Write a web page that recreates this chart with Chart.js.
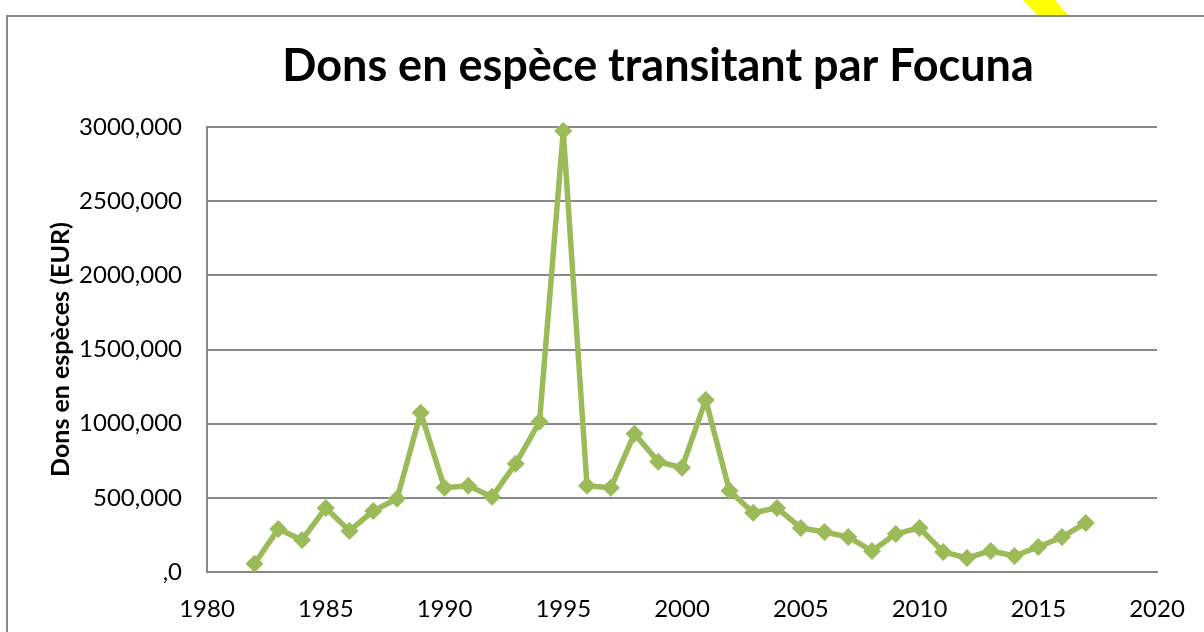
<!DOCTYPE html>
<html>
<head>
<meta charset="utf-8">
<script src="https://cdn.jsdelivr.net/npm/chart.js@4.4.1/dist/chart.umd.min.js"></script>
<style>
  html, body { margin: 0; padding: 0; background: #fff; overflow: hidden; width: 1204px; height: 632px; }
  #frame { position: absolute; left: 6px; top: 15px; border: 2px solid #898989; width: 1300px; height: 650px; }
  #mark { position: absolute; left: 1023px; top: 0; width: 46px; height: 15px; background: #ffff00;
          clip-path: polygon(0 0, 32px 0, 45px 15px, 14px 15px); }
</style>
</head>
<body>
<div id="mark"></div>
<div id="frame"><canvas id="line-chart" width="1300" height="650"></canvas></div>
<script>
// data
const years = [1982, 1983, 1984, 1985, 1986, 1987, 1988, 1989, 1990, 1991, 1992, 1993,
               1994, 1995, 1996, 1997, 1998, 1999, 2000, 2001, 2002, 2003, 2004, 2005,
               2006, 2007, 2008, 2009, 2010, 2011, 2012, 2013, 2014, 2015, 2016, 2017];
const dons = [55, 290, 216, 432, 277, 412, 493, 1074, 568, 581, 507, 730,
              1013, 2973, 581, 568, 932, 743, 703, 1160, 547, 399, 432, 297,
              270, 236, 142, 257, 297, 135, 95, 142, 108, 169, 236, 331];
const yTickLabels = [',0', '500,000', '1000,000', '1500,000', '2000,000', '2500,000', '3000,000'];
const xTickLabels = ['1980', '1985', '1990', '1995', '2000', '2005', '2010', '2015', '2020'];

Chart.defaults.font.family = 'Lato';
Chart.defaults.color = '#000';

const gridGrey = '#888888';

//line chart
const CHART = document.getElementById('line-chart');
let lineChart = new Chart(CHART, {
    type: 'line',
    data: {
        datasets: [{
            data: years.map((y, i) => ({ x: y, y: dons[i] })),
            borderColor: '#9BBB59',
            backgroundColor: '#9BBB59',
            borderWidth: 5.5,
            pointStyle: 'rectRot',
            pointRadius: 9,
            pointBorderWidth: 0,
            tension: 0,
            clip: false
        }]
    },
    options: {
        responsive: false,
        animation: false,
        layout: { padding: 0 },
        plugins: {
            legend: { display: false },
            tooltip: { enabled: false },
            title: {
                display: true,
                text: 'Dons en espèce transitant par Focuna',
                font: { size: 45, weight: 'bold' },
                padding: { top: 22, bottom: 34 }
            }
        },
        scales: {
            x: {
                type: 'linear',
                min: 1980,
                max: 2020,
                grid: { display: false, drawTicks: false },
                border: { display: true, color: gridGrey, width: 2 },
                ticks: {
                    stepSize: 5,
                    padding: 23,
                    font: { size: 24 },
                    maxRotation: 0,
                    callback: (v, i) => xTickLabels[i]
                },
                afterFit: s => { s.height = 95; }
            },
            y: {
                min: 0,
                max: 3000,
                grid: { color: gridGrey, lineWidth: 2, drawTicks: false },
                border: { display: true, color: gridGrey, width: 2 },
                ticks: {
                    stepSize: 500,
                    padding: 25,
                    font: { size: 24 },
                    callback: (v, i) => yTickLabels[i]
                },
                title: {
                    display: true,
                    text: 'Dons en espèces (EUR)',
                    font: { size: 25, weight: 'bold' },
                    padding: { top: 38, bottom: 0 }
                },
                afterFit: s => { s.width = 199; }
            },
            // empty right axis, keeps the plot where the original has it
            y2: {
                position: 'right',
                display: true,
                grid: { display: false, drawTicks: false },
                border: { display: false },
                ticks: { display: false },
                afterFit: s => { s.width = 151; }
            }
        }
    }
});
</script>
</body>
</html>
